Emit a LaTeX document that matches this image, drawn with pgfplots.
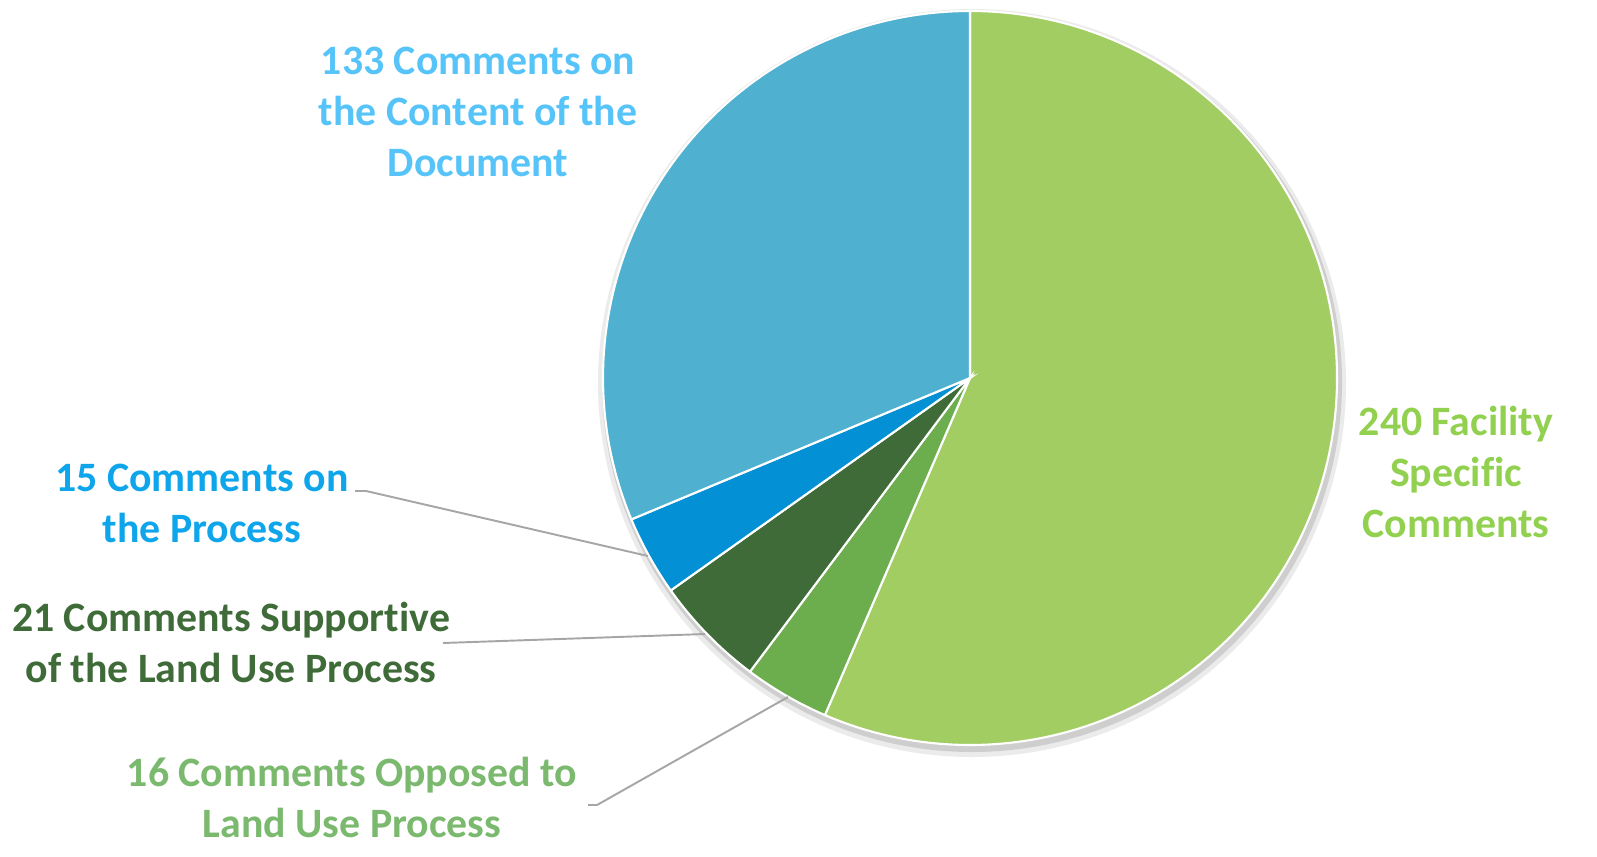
\documentclass[border=0pt]{standalone}
\usepackage{fontspec}
\setmainfont{Carlito}[Ligatures=NoCommon]
\usepackage{pgfplots}
\pgfplotsset{compat=1.18}
\definecolor{pA}{HTML}{A2CD62}
\definecolor{pB}{HTML}{6CAD4E}
\definecolor{pC}{HTML}{3E6B38}
\definecolor{pD}{HTML}{0390D4}
\definecolor{pE}{HTML}{4FB1CF}
\definecolor{tA}{HTML}{92D050}
\definecolor{tB}{HTML}{7AB96E}
\definecolor{tC}{HTML}{3E6B38}
\definecolor{tD}{HTML}{0EA5EA}
\definecolor{tE}{HTML}{57C4F9}
\definecolor{lead}{HTML}{A6A6A6}
\begin{document}
\begin{tikzpicture}
% data: 240, 16, 21, 15, 133
\pgfmathsetmacro\tot{240+16+21+15+133}
\pgfmathsetmacro\aA{90}
\pgfmathsetmacro\aB{\aA-240/\tot*360}
\pgfmathsetmacro\aC{\aB-16/\tot*360}
\pgfmathsetmacro\aD{\aC-21/\tot*360}
\pgfmathsetmacro\aE{\aD-15/\tot*360}
\pgfmathsetmacro\aF{\aE-133/\tot*360}
\begin{axis}[width=15.97cm,height=8.56cm,scale only axis,
  xmin=0,xmax=1597,ymin=-856,ymax=0,hide axis,clip=false]
\coordinate (BL) at (axis cs:0,-856);
\coordinate (TR) at (axis cs:1597,0);
\fill[black,opacity=0.12] (axis cs:972,-382) circle[radius=3.70cm];
\fill[black,opacity=0.08] (axis cs:972,-383) circle[radius=3.74cm];
\filldraw[fill=pA,draw=white,line width=0.6pt] (axis cs:970,-378) -- ++(\aA:3.67cm) arc[start angle=\aA,end angle=\aB,radius=3.67cm] -- cycle;
\filldraw[fill=pB,draw=white,line width=0.6pt] (axis cs:970,-378) -- ++(\aB:3.67cm) arc[start angle=\aB,end angle=\aC,radius=3.67cm] -- cycle;
\filldraw[fill=pC,draw=white,line width=0.6pt] (axis cs:970,-378) -- ++(\aC:3.67cm) arc[start angle=\aC,end angle=\aD,radius=3.67cm] -- cycle;
\filldraw[fill=pD,draw=white,line width=0.6pt] (axis cs:970,-378) -- ++(\aD:3.67cm) arc[start angle=\aD,end angle=\aE,radius=3.67cm] -- cycle;
\filldraw[fill=pE,draw=white,line width=0.6pt] (axis cs:970,-378) -- ++(\aE:3.67cm) arc[start angle=\aE,end angle=\aF,radius=3.67cm] -- cycle;
% leader lines
\draw[lead,line width=0.55pt] (axis cs:355,-491) -- (axis cs:366,-491) -- (axis cs:648,-556);
\draw[lead,line width=0.55pt] (axis cs:443,-643) -- (axis cs:705,-634);
\draw[lead,line width=0.55pt] (axis cs:588,-805) -- (axis cs:597,-805) -- (axis cs:788,-697);
% labels
\tikzset{lab/.style={align=center,inner sep=0pt,font=\bfseries\fontsize{11.9}{14.5}\selectfont}}
\node[lab,text=tE] at (axis cs:478,-112) {133 Comments on\\the Content of the\\Document};
\node[lab,text=tA] at (axis cs:1456,-472) {240 Facility\\Specific\\Comments};
\node[lab,text=tD] at (axis cs:202,-503) {15 Comments on\\the Process};
\node[lab,text=tC] at (axis cs:231,-642) {21 Comments Supportive\\of the Land Use Process};
\node[lab,text=tB] at (axis cs:352,-797) {16 Comments Opposed to\\Land Use Process};
\end{axis}
\pgfresetboundingbox
\path[use as bounding box] (BL) rectangle (TR);
\end{tikzpicture}
\end{document}
